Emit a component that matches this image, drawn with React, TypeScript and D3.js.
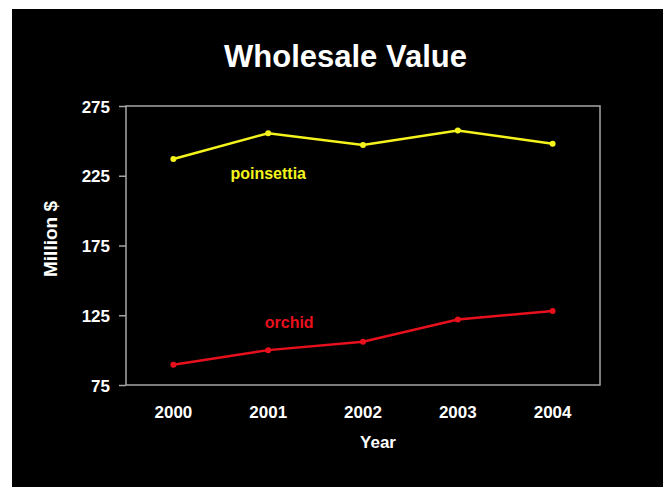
import React, { useEffect, useRef } from 'react';
import * as d3 from 'd3';

const years = ['2000', '2001', '2002', '2003', '2004'];
const poinsettia = [237, 255.5, 247, 257.5, 248];
const orchid = [89.5, 100, 106, 122, 128];
const yTicks = [75, 125, 175, 225, 275];

const W = 663;
const H = 487;
const margin = { left: 126, right: 63, top: 106, bottom: 102 };

const App: React.FC = () => {
  const svgRef = useRef<SVGSVGElement>(null);

  useEffect(() => {
    if (!svgRef.current) return;
    const svg = d3.select(svgRef.current);
    svg.selectAll('*').remove();

    const font = '"Liberation Sans", Arial, sans-serif';
    const innerW = W - margin.left - margin.right;
    const innerH = H - margin.top - margin.bottom;

    // background
    svg.append('rect').attr('width', W).attr('height', H).attr('fill', '#ffffff');
    svg.append('rect').attr('x', 12).attr('y', 9).attr('width', W - 12).attr('height', H - 9).attr('fill', '#000000');

    const x = d3.scaleBand().domain(years).range([0, innerW]);
    const y = d3.scaleLinear().domain([75, 275]).range([innerH, 0]);

    const g = svg.append('g').attr('transform', `translate(${margin.left},${margin.top})`);

    // plot frame
    g.append('rect')
      .attr('width', innerW)
      .attr('height', innerH)
      .attr('fill', 'none')
      .attr('stroke', '#a6a6a6')
      .attr('stroke-width', 1.5);

    // y axis
    const yAxis = g.append('g').call(d3.axisLeft(y).tickValues(yTicks).tickSize(7).tickSizeOuter(0));
    yAxis.select('.domain').remove();
    yAxis.selectAll('line').attr('stroke', '#a6a6a6').attr('stroke-width', 1.5);
    yAxis.selectAll('text')
      .attr('fill', '#ffffff')
      .attr('x', -16)
      .attr('dy', '0.36em')
      .style('font-family', font)
      .style('font-size', '17px')
      .style('font-weight', 'bold');

    // x axis
    const xAxis = g.append('g')
      .attr('transform', `translate(0,${innerH})`)
      .call(d3.axisBottom(x).tickSize(0));
    xAxis.select('.domain').remove();
    xAxis.selectAll('text')
      .attr('fill', '#ffffff')
      .attr('y', 21)
      .attr('dy', '0.71em')
      .style('font-family', font)
      .style('font-size', '17px')
      .style('font-weight', 'bold');

    const cx = (d: string) => (x(d) ?? 0) + x.bandwidth() / 2;

    const series = [
      { name: 'poinsettia', values: poinsettia, color: '#f4f41c' },
      { name: 'orchid', values: orchid, color: '#e8101c' },
    ];

    const line = d3.line<number>()
      .x((_, i) => cx(years[i]))
      .y(d => y(d));

    series.forEach(s => {
      g.append('path')
        .datum(s.values)
        .attr('d', line)
        .attr('fill', 'none')
        .attr('stroke', s.color)
        .attr('stroke-width', 2.5);

      g.selectAll(`.pt-${s.name}`)
        .data(s.values)
        .enter()
        .append('circle')
        .attr('cx', (_, i) => cx(years[i]))
        .attr('cy', d => y(d))
        .attr('r', 3)
        .attr('fill', s.color);
    });

    // series labels
    g.append('text')
      .attr('x', cx('2001'))
      .attr('y', y(222.7))
      .attr('text-anchor', 'middle')
      .attr('fill', '#f4f41c')
      .style('font-family', font)
      .style('font-size', '16px')
      .style('font-weight', 'bold')
      .text('poinsettia');

    g.append('text')
      .attr('x', cx('2001') + 21)
      .attr('y', y(115.9))
      .attr('text-anchor', 'middle')
      .attr('fill', '#e8101c')
      .style('font-family', font)
      .style('font-size', '16px')
      .style('font-weight', 'bold')
      .text('orchid');

    // title
    svg.append('text')
      .attr('x', 345.5)
      .attr('y', 67)
      .attr('text-anchor', 'middle')
      .attr('fill', '#ffffff')
      .style('font-family', font)
      .style('font-size', '31px')
      .style('font-weight', 'bold')
      .text('Wholesale Value');

    // axis titles
    svg.append('text')
      .attr('x', 378)
      .attr('y', 448)
      .attr('text-anchor', 'middle')
      .attr('fill', '#ffffff')
      .style('font-family', font)
      .style('font-size', '17px')
      .style('font-weight', 'bold')
      .text('Year');

    svg.append('text')
      .attr('transform', `translate(57,${239}) rotate(-90)`)
      .attr('text-anchor', 'middle')
      .attr('fill', '#ffffff')
      .style('font-family', font)
      .style('font-size', '19px')
      .style('font-weight', 'bold')
      .text('Million $');
  }, []);

  return (
    <svg
      ref={svgRef}
      width={W}
      height={H}
      style={{ position: 'fixed', left: 0, top: 0, display: 'block' }}
    />
  );
};

export default App;
